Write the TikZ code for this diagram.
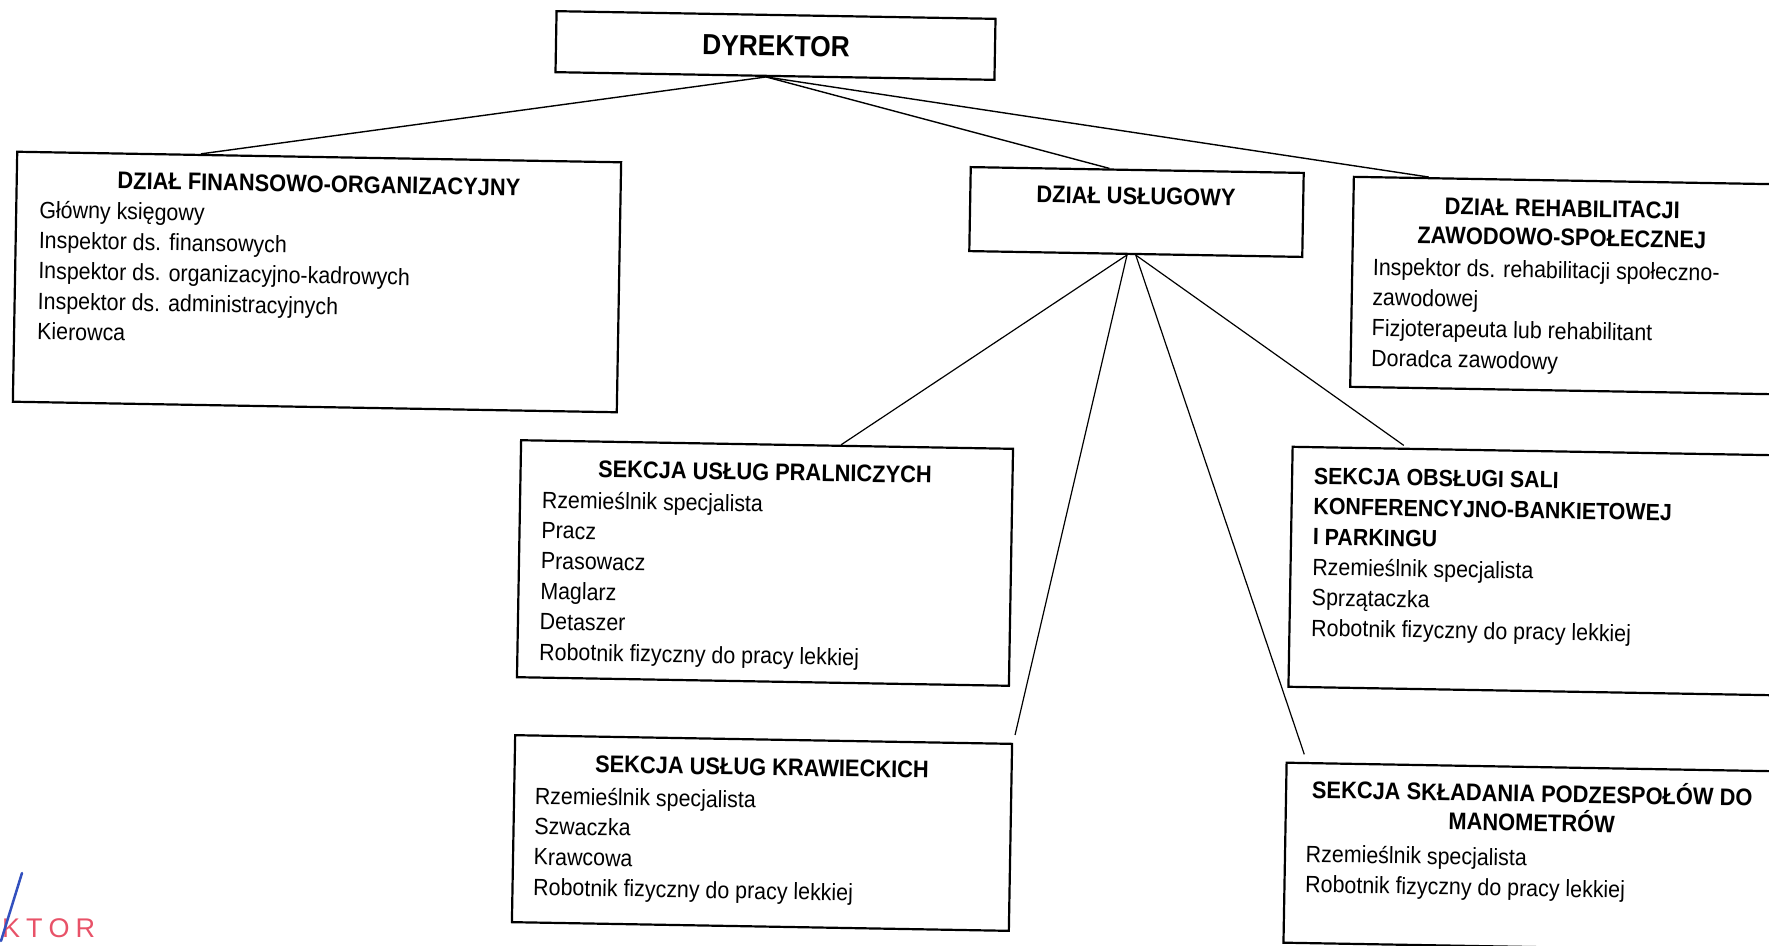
\documentclass[tikz,border=0pt]{standalone}
\usepackage{fontspec}
\setmainfont{Liberation Sans}[FakeStretch=0.91]
\newfontfamily\stampfont{Liberation Sans}
\usetikzlibrary{calc}
\definecolor{stampred}{RGB}{232,82,104}
\definecolor{penblue}{RGB}{50,80,190}
\begin{document}
\begin{tikzpicture}[x=1pt,y=-1pt,
  box/.style={draw, line width=2.2pt, rotate=-1, inner sep=0pt},
  hdr/.style={font=\fontsize{24}{29}\selectfont\bfseries, rotate=-1, inner sep=0pt, align=center},
  items/.style={font=\fontsize{23.5}{30.4}\selectfont, rotate=-1, inner sep=0pt, align=left, anchor=base west},
  link/.style={line width=1.4pt},
]
\useasboundingbox (0,0) rectangle (1769,945);
\clip (0,0) rectangle (1769,945);

% DYREKTOR
\node[box, minimum width=439pt, minimum height=61pt] (dyr) at (775.5,45.5) {};
\node[hdr, font=\fontsize{29}{34}\selectfont\bfseries] (dyrt) at (776,46) {DYREKTOR};

% Dzial finansowo-organizacyjny (items anchored at the baseline of the last line)
\node[box, minimum width=604pt, minimum height=250pt] (fin) at (317,282) {};
\node[hdr] (fint) at (319,184) {DZIAŁ FINANSOWO-ORGANIZACYJNY};
\node[items] (fini) at (37,339.6) {Główny księgowy\\Inspektor ds. finansowych\\Inspektor ds. organizacyjno-kadrowych\\Inspektor ds. administracyjnych\\Kierowca};

% Dzial uslugowy
\node[box, minimum width=333pt, minimum height=84pt] (usl) at (1136.5,212) {};
\node[hdr] (uslt) at (1136,196) {DZIAŁ USŁUGOWY};

% Dzial rehabilitacji
\node[box, minimum width=420pt, minimum height=210pt] (reh) at (1562,285.5) {};
\node[hdr] (reht) at (1562,223) {DZIAŁ REHABILITACJI\\ZAWODOWO-SPOŁECZNEJ};
\node[items] (rehi) at (1371,366.2) {Inspektor ds. rehabilitacji społeczno-\\zawodowej\\Fizjoterapeuta lub rehabilitant\\Doradca zawodowy};

% Sekcja uslug pralniczych
\node[box, minimum width=492pt, minimum height=237pt] (pral) at (765,563) {};
\node[hdr] (pralt) at (765,472) {SEKCJA USŁUG PRALNICZYCH};
\node[items] (prali) at (539,660) {Rzemieślnik specjalista\\Pracz\\Prasowacz\\Maglarz\\Detaszer\\Robotnik fizyczny do pracy lekkiej};

% Sekcja uslug krawieckich
\node[box, minimum width=497pt, minimum height=187pt] (kraw) at (762,833) {};
\node[hdr] (krawt) at (762,767) {SEKCJA USŁUG KRAWIECKICH};
\node[items] (krawi) at (533,895.2) {Rzemieślnik specjalista\\Szwaczka\\Krawcowa\\Robotnik fizyczny do pracy lekkiej};

% Sekcja obslugi sali
\node[box, minimum width=483pt, minimum height=240pt] (obs) at (1532,571) {};
\node[items] (obsi) at (1311,636) {\textbf{SEKCJA OBSŁUGI SALI}\\\textbf{KONFERENCYJNO-BANKIETOWEJ}\\\textbf{I PARKINGU}\\Rzemieślnik specjalista\\Sprzątaczka\\Robotnik fizyczny do pracy lekkiej};

% Sekcja skladania podzespolow
\node[box, minimum width=494pt, minimum height=180pt] (skl) at (1532,857) {};
\node[hdr] (sklt) at (1532,806) {SEKCJA SKŁADANIA PODZESPOŁÓW DO\\MANOMETRÓW};
\node[items] (skli) at (1305,892.4) {Rzemieślnik specjalista\\Robotnik fizyczny do pracy lekkiej};

% connectors
\coordinate (dyrb) at ($(dyr.south west)!0.48!(dyr.south east)$);
\coordinate (uslb) at ($(usl.south west)!0.474!(usl.south east)$);
\coordinate (uslc) at ($(usl.south west)!0.5!(usl.south east)$);
\draw[link] (dyrb) -- ($(fin.north west)!0.305!(fin.north east)$);
\draw[link] (dyrb) -- ($(usl.north west)!0.417!(usl.north east)$);
\draw[link] (dyrb) -- ($(reh.north west)!0.18!(reh.north east)$);
\draw[link, line width=1.2pt] (uslb) -- ($(pral.north west)!0.65!(pral.north east)$);
\draw[link, line width=1.2pt, shorten >=8pt] (uslb) -- (kraw.north east);
\draw[link, line width=1.2pt, shorten >=8pt] (uslc) -- ($(skl.north west)!0.043!(skl.north east)$);
\draw[link, line width=1.2pt, shorten >=4pt] (uslc) -- ($(obs.north west)!0.238!(obs.north east)$);

% stamp remnant
\node[font=\stampfont\fontsize{27}{27}\selectfont, text=stampred, anchor=base west, inner sep=0pt] (stamp) at (2,937) {K\kern6pt T\kern6pt O\kern6pt R};
\coordinate (pen1) at (22,873);
\coordinate (pen2) at (1,941);
\draw[penblue, line width=2.5pt, line cap=round] (pen1) -- (pen2);
\end{tikzpicture}
\end{document}
